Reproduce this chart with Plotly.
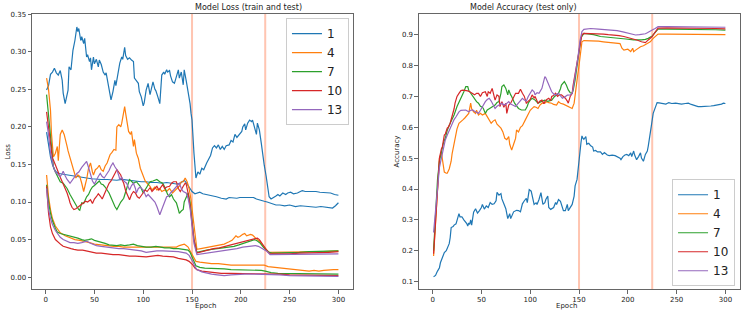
import plotly.graph_objects as go

labels = ["1", "4", "7", "10", "13"]
colors = ["#1f77b4", "#ff7f0e", "#2ca02c", "#d62728", "#9467bd"]

# ---------- Loss (test) ----------
lt1 = [(1,.249),(3,.255),(5,.27),(7,.273),(9,.278),(11,.272),(13,.269),(15,.275),(17,.262),(18,.245),(20,.231),(22,.245),(23,.249),(24,.28),(26,.276),(28,.302),(30,.315),(32,.333),(33,.327),(34,.331),(36,.315),(37,.32),(39,.311),(40,.318),(42,.293),(43,.296),(45,.287),(46,.292),(47,.276),(49,.293),(50,.284),(52,.29),(54,.28),(55,.289),(57,.283),(59,.273),(61,.269),(62,.272),(64,.258),(66,.24),(67,.236),(69,.247),(71,.262),(72,.255),(74,.269),(76,.285),(78,.293),(79,.29),(81,.306),(82,.295),(84,.29),(86,.292),(88,.289),(90,.287),(91,.265),(93,.262),(95,.258),(96,.247),(98,.24),(100,.228),(101,.232),(103,.249),(105,.258),(107,.243),(108,.25),(110,.26),(112,.25),(113,.248),(115,.24),(117,.231),(119,.269),(121,.273),(122,.27),(124,.276),(125,.273),(127,.275),(128,.268),(130,.26),(132,.258),(134,.268),(136,.276),(137,.265),(139,.273),(141,.256),(142,.276),(144,.262),(146,.249),(148,.231),(149,.218),(150,.209),(152,.165),(154,.132),(156,.14),(158,.137),(160,.145),(162,.143),(165,.152),(167,.158),(169,.162),(171,.172),(173,.175),(175,.172),(177,.176),(179,.17),(181,.174),(183,.17),(185,.175),(188,.176),(190,.182),(192,.18),(194,.19),(196,.186),(199,.19),(201,.194),(202,.2),(204,.204),(205,.196),(207,.205),(209,.209),(211,.207),(212,.209),(214,.2),(216,.19),(217,.205),(219,.196),(221,.178),(222,.165),(224,.149),(226,.134),(228,.115),(229,.107),(231,.104),(234,.106),(236,.108),(238,.11),(240,.108),(243,.112),(246,.11),(248,.112),(251,.113),(254,.111),(258,.112),(261,.114),(263,.115),(266,.114),(270,.114),(273,.115),(277,.114),(281,.113),(284,.113),(288,.112),(292,.112),(296,.11),(300,.109)]
lt4 = [(1,.265),(3,.25),(5,.222),(6,.191),(8,.16),(10,.165),(12,.174),(13,.155),(15,.19),(17,.196),(19,.19),(20,.183),(22,.174),(23,.168),(25,.158),(27,.15),(29,.138),(31,.132),(33,.136),(35,.134),(37,.125),(39,.114),(41,.125),(42,.13),(44,.145),(46,.152),(48,.14),(49,.136),(51,.143),(53,.145),(55,.149),(57,.143),(59,.141),(61,.148),(63,.152),(65,.158),(66,.163),(68,.166),(70,.17),(72,.169),(73,.2),(75,.203),(77,.2),(78,.205),(79,.213),(81,.227),(82,.218),(84,.2),(85,.194),(87,.19),(88,.194),(90,.174),(91,.183),(93,.165),(95,.158),(97,.145),(99,.138),(100,.136),(102,.128),(104,.125),(107,.121),(109,.116),(112,.12),(114,.116),(117,.118),(119,.114),(122,.116),(124,.114),(127,.118),(130,.112),(132,.115),(135,.118),(137,.121),(139,.127),(141,.127),(143,.132),(145,.127),(147,.118),(149,.103),(151,.08),(153,.059),(155,.037),(159,.038),(163,.039),(168,.04),(173,.042),(178,.043),(183,.044),(188,.047),(191,.049),(193,.052),(195,.055),(197,.053),(199,.054),(202,.057),(204,.058),(206,.055),(208,.056),(210,.057),(212,.056),(214,.053),(216,.051),(219,.048),(222,.043),(226,.037),(229,.033),(235,.033),(245,.033),(255,.034),(265,.034),(275,.034),(285,.034),(300,.035)]
lt7 = [(1,.243),(3,.215),(5,.183),(7,.155),(8,.147),(10,.14),(12,.134),(15,.127),(18,.125),(20,.122),(22,.118),(25,.11),(27,.105),(29,.1),(32,.094),(34,.09),(35,.089),(37,.099),(39,.098),(42,.107),(44,.11),(46,.116),(48,.12),(50,.122),(52,.125),(55,.128),(57,.124),(59,.123),(61,.12),(63,.116),(65,.112),(67,.106),(69,.099),(71,.094),(73,.09),(75,.095),(77,.1),(80,.105),(82,.115),(84,.122),(86,.13),(88,.127),(90,.125),(93,.127),(95,.124),(97,.121),(100,.112),(102,.116),(104,.12),(107,.127),(110,.128),(114,.13),(117,.127),(120,.125),(122,.12),(125,.11),(127,.107),(129,.11),(131,.104),(134,.099),(136,.09),(137,.085),(139,.088),(141,.09),(142,.1),(144,.107),(146,.112),(148,.1),(150,.072),(152,.05),(155,.033),(160,.035),(165,.036),(170,.037),(176,.038),(182,.039),(188,.04),(193,.041),(198,.043),(203,.045),(208,.047),(211,.049),(214,.05),(217,.048),(220,.045),(223,.04),(226,.036),(229,.033),(232,.032),(240,.032),(250,.033),(260,.033),(270,.034),(280,.034),(290,.035),(300,.035)]
lt10 = [(1,.22),(3,.2),(5,.174),(7,.158),(8,.156),(10,.148),(12,.143),(14,.136),(16,.13),(18,.125),(20,.118),(22,.112),(24,.104),(25,.099),(27,.093),(29,.09),(31,.091),(33,.093),(35,.096),(37,.097),(39,.099),(41,.101),(43,.1),(46,.103),(48,.098),(50,.104),(52,.107),(54,.111),(56,.108),(58,.104),(60,.11),(62,.116),(63,.119),(65,.125),(67,.128),(69,.134),(71,.138),(73,.143),(75,.14),(77,.136),(79,.128),(80,.125),(82,.115),(84,.108),(86,.103),(88,.11),(90,.114),(92,.112),(94,.107),(96,.105),(98,.109),(100,.112),(102,.116),(104,.114),(107,.119),(109,.114),(111,.117),(114,.121),(116,.116),(118,.119),(120,.123),(122,.118),(124,.12),(127,.121),(129,.125),(131,.127),(134,.127),(136,.118),(138,.114),(141,.121),(143,.125),(144,.124),(146,.112),(148,.095),(150,.072),(152,.05),(155,.032),(160,.034),(166,.036),(172,.038),(178,.039),(184,.041),(190,.043),(196,.045),(202,.047),(207,.049),(211,.051),(214,.052),(217,.052),(219,.05),(221,.046),(224,.041),(226,.037),(228,.033),(230,.031),(240,.031),(250,.031),(260,.032),(270,.032),(280,.033),(290,.033),(300,.034)]
lt13 = [(1,.207),(3,.19),(5,.165),(7,.152),(8,.147),(10,.14),(12,.137),(15,.134),(17,.138),(18,.141),(20,.135),(22,.13),(25,.125),(27,.128),(29,.132),(32,.138),(34,.14),(37,.146),(39,.149),(41,.153),(42,.154),(44,.146),(46,.138),(48,.128),(50,.124),(52,.13),(54,.134),(56,.138),(58,.134),(60,.132),(63,.138),(65,.142),(67,.148),(69,.152),(71,.147),(73,.143),(75,.135),(76,.13),(78,.133),(80,.128),(83,.125),(85,.12),(86,.116),(88,.122),(90,.125),(92,.118),(93,.112),(95,.118),(97,.12),(100,.116),(102,.11),(103,.107),(105,.11),(107,.107),(110,.103),(112,.1),(114,.094),(116,.087),(117,.083),(119,.09),(120,.094),(122,.1),(124,.107),(126,.108),(128,.112),(131,.116),(133,.119),(135,.122),(137,.125),(139,.118),(141,.114),(144,.112),(146,.105),(148,.092),(150,.063),(152,.045),(155,.03),(160,.031),(166,.032),(172,.033),(178,.034),(184,.035),(190,.036),(196,.038),(202,.04),(207,.041),(211,.042),(215,.042),(218,.041),(221,.039),(224,.037),(227,.034),(230,.03),(240,.03),(250,.03),(260,.031),(270,.031),(280,.031),(290,.031),(300,.031)]

# ---------- Loss (train) ----------
ltr1 = [(1,.193),(3,.175),(5,.16),(7,.15),(9,.143),(11,.14),(14,.138),(18,.137),(22,.136),(27,.135),(32,.134),(37,.133),(42,.132),(47,.131),(52,.13),(57,.13),(63,.13),(68,.129),(73,.129),(78,.13),(83,.129),(88,.128),(93,.128),(98,.127),(103,.127),(108,.126),(114,.126),(119,.125),(124,.126),(129,.125),(134,.124),(138,.125),(140,.127),(142,.129),(144,.126),(146,.122),(148,.118),(150,.114),(153,.111),(156,.112),(158,.113),(161,.111),(165,.11),(170,.108),(175,.107),(180,.105),(185,.104),(188,.106),(192,.105),(196,.105),(199,.106),(203,.106),(206,.105),(209,.106),(213,.106),(216,.104),(220,.103),(224,.101),(227,.1),(229,.099),(232,.097),(236,.096),(240,.096),(245,.095),(250,.096),(256,.094),(261,.095),(267,.094),(272,.094),(277,.093),(282,.094),(287,.093),(291,.093),(294,.092),(297,.095),(300,.099)]
ltr4 = [(1,.136),(2,.12),(3,.107),(5,.09),(7,.078),(10,.068),(13,.062),(15,.059),(20,.055),(25,.052),(30,.05),(35,.049),(39,.048),(45,.046),(50,.044),(55,.043),(60,.042),(65,.042),(70,.041),(75,.041),(80,.04),(86,.04),(92,.04),(98,.039),(103,.039),(110,.039),(115,.039),(120,.039),(125,.04),(130,.04),(134,.04),(137,.042),(140,.043),(142,.044),(144,.042),(146,.04),(148,.035),(150,.03),(152,.024),(154,.021),(158,.02),(163,.019),(170,.018),(177,.018),(183,.017),(190,.016),(196,.016),(202,.016),(208,.016),(214,.016),(218,.017),(221,.017),(224,.016),(228,.014),(235,.013),(245,.012),(255,.01),(262,.009),(266,.008),(270,.008),(275,.009),(280,.008),(285,.009),(290,.01),(295,.01),(300,.01)]
ltr7 = [(1,.123),(2,.11),(3,.1),(5,.085),(7,.075),(10,.065),(12,.06),(15,.058),(18,.057),(22,.056),(26,.055),(29,.054),(33,.052),(37,.05),(40,.049),(44,.05),(47,.051),(50,.049),(53,.048),(57,.047),(61,.045),(65,.043),(69,.042),(73,.042),(77,.043),(81,.042),(86,.043),(90,.044),(94,.042),(98,.041),(103,.04),(108,.04),(113,.041),(118,.04),(122,.039),(127,.039),(131,.038),(136,.038),(140,.037),(144,.037),(146,.036),(148,.033),(150,.028),(152,.021),(154,.015),(158,.013),(163,.012),(170,.012),(177,.011),(183,.011),(190,.01),(197,.01),(204,.009),(210,.009),(216,.009),(221,.009),(225,.008),(228,.007),(231,.006),(238,.005),(245,.005),(251,.004),(260,.004),(270,.004),(280,.004),(290,.004),(300,.004)]
ltr10 = [(1,.121),(2,.1),(3,.085),(5,.067),(7,.058),(10,.05),(13,.046),(16,.043),(18,.041),(22,.039),(26,.038),(29,.037),(33,.036),(38,.036),(42,.035),(47,.034),(52,.032),(57,.032),(62,.031),(69,.03),(75,.03),(80,.029),(86,.028),(92,.028),(98,.027),(103,.027),(109,.028),(115,.029),(120,.028),(126,.027),(131,.027),(136,.025),(140,.024),(144,.023),(147,.021),(149,.019),(151,.016),(153,.012),(155,.01),(160,.008),(165,.007),(172,.006),(180,.005),(190,.005),(200,.005),(210,.005),(220,.005),(226,.005),(231,.004),(240,.004),(250,.003),(260,.003),(270,.002),(280,.002),(290,.002),(300,.002)]
ltr13 = [(1,.118),(2,.1),(3,.09),(5,.078),(7,.07),(10,.062),(12,.058),(15,.053),(18,.05),(22,.048),(25,.046),(29,.046),(33,.045),(37,.046),(42,.048),(46,.045),(50,.043),(52,.042),(57,.041),(62,.04),(69,.039),(75,.038),(80,.038),(86,.037),(92,.036),(98,.035),(103,.033),(108,.034),(114,.035),(120,.035),(126,.035),(131,.035),(136,.034),(140,.033),(144,.032),(147,.029),(149,.025),(151,.02),(153,.014),(155,.01),(160,.007),(165,.005),(170,.004),(176,.003),(183,.002),(190,.003),(197,.004),(204,.004),(210,.004),(217,.004),(223,.004),(228,.003),(231,.003),(240,.003),(250,.002),(260,.002),(270,.001),(280,.001),(290,.001),(300,.001)]

# ---------- Accuracy (test) ----------
acc1 = [(1,.116),(3,.12),(5,.134),(7,.145),(8,.161),(10,.178),(12,.194),(14,.2),(15,.21),(17,.223),(18,.242),(19,.275),(21,.278),(22,.283),(24,.287),(25,.299),(27,.32),(28,.31),(30,.31),(32,.3),(34,.294),(35,.288),(36,.28),(37,.29),(38,.285),(39,.3),(40,.283),(42,.325),(44,.336),(46,.322),(48,.33),(50,.34),(51,.35),(53,.335),(55,.345),(57,.34),(59,.356),(61,.35),(63,.352),(65,.362),(66,.389),(68,.38),(70,.385),(71,.368),(73,.352),(75,.336),(77,.304),(78,.31),(79,.32),(80,.304),(81,.31),(82,.32),(83,.326),(86,.331),(88,.33),(90,.326),(92,.352),(94,.362),(96,.37),(97,.356),(99,.398),(101,.393),(102,.377),(104,.35),(106,.355),(107,.35),(109,.366),(111,.388),(113,.35),(115,.356),(116,.366),(118,.377),(119,.34),(121,.334),(124,.34),(126,.356),(127,.35),(129,.366),(131,.36),(133,.34),(134,.33),(136,.33),(138,.35),(139,.33),(141,.34),(143,.35),(145,.377),(146,.41),(148,.431),(150,.48),(151,.52),(152,.55),(153,.572),(154,.565),(155,.561),(157,.57),(158,.545),(160,.548),(162,.54),(164,.536),(165,.523),(167,.525),(169,.52),(172,.52),(174,.512),(176,.518),(179,.51),(181,.508),(184,.51),(187,.508),(189,.504),(192,.5),(193,.495),(195,.505),(197,.51),(199,.512),(201,.508),(203,.517),(204,.505),(206,.523),(207,.51),(209,.495),(211,.505),(213,.517),(214,.5),(216,.49),(218,.512),(220,.523),(221,.54),(223,.59),(224,.602),(226,.645),(228,.665),(230,.68),(232,.679),(234,.678),(237,.676),(239,.675),(242,.68),(245,.677),(249,.678),(252,.676),(255,.675),(259,.677),(262,.678),(265,.674),(267,.672),(270,.669),(272,.667),(275,.667),(278,.667),(282,.668),(285,.669),(288,.67),(292,.672),(296,.675),(298,.678),(300,.677)]
acc4 = [(1,.183),(3,.3),(5,.42),(7,.5),(9,.518),(10,.49),(11,.47),(12,.455),(14,.451),(15,.451),(17,.465),(19,.49),(20,.515),(22,.55),(24,.585),(25,.595),(27,.613),(29,.62),(31,.624),(33,.63),(34,.634),(36,.64),(37,.645),(39,.678),(40,.66),(42,.65),(44,.645),(45,.655),(47,.64),(49,.645),(51,.64),(54,.645),(56,.635),(58,.624),(60,.613),(62,.62),(64,.624),(66,.61),(68,.602),(70,.597),(72,.585),(74,.564),(76,.56),(78,.57),(79,.545),(81,.526),(83,.545),(85,.564),(86,.591),(88,.585),(90,.6),(92,.605),(95,.624),(98,.645),(100,.655),(102,.661),(104,.667),(106,.665),(108,.661),(110,.672),(112,.678),(115,.678),(117,.683),(119,.68),(122,.678),(124,.674),(127,.672),(129,.683),(131,.678),(134,.675),(136,.672),(139,.667),(141,.664),(143,.661),(145,.678),(146,.71),(148,.753),(150,.8),(152,.86),(153,.877),(155,.881),(160,.881),(165,.88),(170,.879),(175,.877),(180,.876),(186,.874),(190,.872),(192,.871),(194,.856),(196,.85),(198,.852),(200,.853),(202,.848),(203,.845),(205,.856),(206,.845),(208,.85),(210,.855),(213,.861),(216,.864),(218,.867),(221,.872),(223,.877),(226,.888),(229,.898),(231,.902),(240,.902),(250,.902),(260,.902),(270,.902),(280,.901),(290,.9),(300,.9)]
acc7 = [(1,.2),(3,.32),(5,.43),(7,.49),(9,.52),(11,.548),(13,.565),(15,.59),(18,.613),(20,.625),(22,.64),(25,.667),(27,.68),(29,.694),(31,.705),(32,.715),(34,.732),(36,.732),(37,.72),(39,.71),(41,.7),(43,.69),(45,.683),(47,.678),(49,.668),(51,.665),(52,.661),(54,.645),(56,.656),(58,.66),(61,.667),(64,.672),(66,.68),(68,.683),(70,.71),(71,.732),(73,.737),(75,.726),(77,.705),(78,.721),(80,.705),(81,.7),(84,.678),(86,.668),(88,.661),(91,.656),(95,.656),(97,.668),(98,.678),(100,.688),(102,.694),(105,.688),(108,.678),(111,.683),(115,.688),(118,.684),(122,.688),(125,.7),(129,.71),(131,.725),(132,.737),(135,.748),(137,.737),(139,.721),(141,.712),(143,.71),(144,.72),(146,.753),(148,.8),(150,.85),(152,.89),(155,.904),(160,.902),(165,.9),(172,.894),(177,.892),(182,.891),(187,.889),(192,.888),(198,.886),(206,.883),(210,.882),(214,.883),(218,.885),(221,.888),(225,.896),(228,.908),(231,.918),(240,.918),(250,.918),(260,.917),(270,.917),(280,.917),(290,.916),(300,.915)]
acc10 = [(1,.19),(3,.3),(5,.42),(7,.5),(9,.53),(10,.537),(12,.575),(13,.578),(15,.597),(16,.6),(18,.613),(20,.634),(22,.66),(23,.678),(25,.7),(27,.71),(29,.719),(31,.72),(34,.72),(36,.718),(38,.715),(40,.71),(43,.705),(45,.71),(47,.71),(49,.7),(51,.712),(54,.715),(55,.705),(56,.7),(57,.715),(59,.71),(61,.726),(62,.71),(64,.688),(66,.705),(68,.7),(69,.667),(71,.683),(73,.665),(75,.678),(76,.645),(78,.672),(80,.678),(83,.695),(85,.71),(88,.71),(90,.723),(92,.71),(94,.7),(96,.678),(98,.683),(100,.69),(102,.705),(104,.695),(105,.7),(108,.678),(110,.685),(112,.688),(114,.676),(115,.683),(117,.69),(119,.694),(121,.686),(122,.7),(124,.703),(126,.71),(128,.7),(130,.705),(132,.705),(134,.7),(136,.694),(138,.685),(139,.678),(141,.7),(143,.71),(144,.737),(146,.775),(149,.829),(151,.875),(153,.9),(155,.904),(160,.904),(165,.903),(170,.903),(175,.902),(180,.9),(186,.899),(191,.897),(196,.894),(201,.89),(206,.885),(210,.882),(214,.877),(218,.874),(221,.883),(225,.894),(228,.908),(231,.921),(240,.922),(250,.922),(260,.922),(270,.922),(280,.921),(290,.92),(300,.919)]
acc13 = [(1,.259),(3,.33),(5,.42),(7,.47),(9,.5),(10,.515),(12,.54),(13,.559),(15,.575),(17,.59),(20,.613),(22,.625),(24,.634),(26,.645),(27,.65),(29,.655),(31,.656),(34,.656),(36,.652),(37,.65),(39,.655),(41,.656),(43,.652),(45,.648),(47,.645),(49,.655),(51,.667),(53,.678),(54,.683),(56,.69),(58,.694),(60,.685),(62,.672),(64,.661),(66,.668),(68,.672),(71,.678),(73,.672),(75,.675),(78,.683),(80,.675),(82,.672),(85,.667),(87,.675),(89,.683),(92,.694),(94,.688),(96,.685),(98,.7),(100,.71),(102,.721),(104,.715),(105,.705),(107,.712),(109,.71),(112,.726),(114,.75),(115,.764),(116,.76),(118,.745),(119,.737),(121,.728),(122,.715),(124,.708),(126,.705),(129,.71),(131,.7),(133,.694),(136,.7),(138,.704),(141,.705),(143,.71),(144,.726),(146,.764),(149,.829),(151,.88),(153,.91),(155,.917),(162,.92),(170,.918),(175,.917),(182,.915),(189,.913),(195,.909),(199,.906),(204,.902),(208,.899),(212,.9),(215,.901),(218,.903),(220,.906),(223,.91),(225,.915),(228,.92),(231,.926),(240,.926),(250,.926),(260,.926),(270,.926),(280,.925),(290,.925),(300,.924)]

loss_test = [lt1, lt4, lt7, lt10, lt13]
loss_train = [ltr1, ltr4, ltr7, ltr10, ltr13]
acc_test = [acc1, acc4, acc7, acc10, acc13]
stage_epochs = [150, 225]

FONT = "DejaVu Sans"
fig = go.Figure()

def xs(s):
    return [p[0] for p in s]

def ys(s):
    return [p[1] for p in s]

for i in range(5):
    fig.add_trace(go.Scatter(x=xs(loss_train[i]), y=ys(loss_train[i]), mode="lines",
                             line=dict(color=colors[i], width=1.2), showlegend=False,
                             xaxis="x", yaxis="y", hoverinfo="skip"))
for i in range(5):
    fig.add_trace(go.Scatter(x=xs(loss_test[i]), y=ys(loss_test[i]), mode="lines",
                             line=dict(color=colors[i], width=1.2), name=labels[i],
                             legend="legend", xaxis="x", yaxis="y"))
for i in range(5):
    fig.add_trace(go.Scatter(x=xs(acc_test[i]), y=ys(acc_test[i]), mode="lines",
                             line=dict(color=colors[i], width=1.2), name=labels[i],
                             legend="legend2", xaxis="x2", yaxis="y2"))

shapes = []
for xr, yr in [("x", "y domain"), ("x2", "y2 domain")]:
    for e in stage_epochs:
        shapes.append(dict(type="line", xref=xr, yref=yr, x0=e, x1=e, y0=0, y1=1,
                           line=dict(color="rgba(255,140,100,0.5)", width=2), layer="below"))

axis_common = dict(showline=True, mirror=True, linecolor="#666", linewidth=1,
                   ticks="outside", ticklen=3.5, tickwidth=1, tickcolor="#666",
                   showgrid=False, zeroline=False,
                   tickfont=dict(family=FONT, size=7, color="#222"))

fig.update_layout(
    width=747, height=314,
    margin=dict(l=32, r=7, t=14, b=25),
    plot_bgcolor="white", paper_bgcolor="white",
    shapes=shapes,
    xaxis=dict(domain=[0, 0.4534], range=[-13.95, 314.95], tickvals=[0, 50, 100, 150, 200, 250, 300], **axis_common),
    yaxis=dict(range=[-0.0158, 0.3503], tickvals=[0, 0.05, 0.1, 0.15, 0.2, 0.25, 0.3, 0.35], tickformat=".2f", **axis_common),
    xaxis2=dict(domain=[0.5466, 1], range=[-13.95, 314.95], tickvals=[0, 50, 100, 150, 200, 250, 300], anchor="y2", **axis_common),
    yaxis2=dict(range=[0.076, 0.967], tickvals=[0.1, 0.2, 0.3, 0.4, 0.5, 0.6, 0.7, 0.8, 0.9], tickformat=".1f", anchor="x2", **axis_common),
    legend=dict(x=0.4477, y=0.985, xanchor="right", yanchor="top", bgcolor="white",
                bordercolor="#ccc", borderwidth=1, itemwidth=30,
                font=dict(family=FONT, size=12, color="#222"), tracegroupgap=0),
    legend2=dict(x=0.993, y=0.01, xanchor="right", yanchor="bottom", bgcolor="white",
                 bordercolor="#ccc", borderwidth=1, itemwidth=30,
                 font=dict(family=FONT, size=12, color="#222"), tracegroupgap=0),
    annotations=[
        dict(text="Model Loss (train and test)", x=0.2267, y=1.025, xref="paper", yref="paper",
             showarrow=False, font=dict(family=FONT, size=8, color="#222"), yanchor="middle"),
        dict(text="Model Accuracy (test only)", x=0.7733, y=1.025, xref="paper", yref="paper",
             showarrow=False, font=dict(family=FONT, size=8, color="#222"), yanchor="middle"),
        dict(text="Epoch", x=0.2267, y=-0.062, xref="paper", yref="paper",
             showarrow=False, font=dict(family=FONT, size=7, color="#222"), yanchor="middle"),
        dict(text="Epoch", x=0.7733, y=-0.062, xref="paper", yref="paper",
             showarrow=False, font=dict(family=FONT, size=7, color="#222"), yanchor="middle"),
        dict(text="Loss", x=-0.0353, y=0.5, xref="paper", yref="paper", textangle=-90,
             showarrow=False, font=dict(family=FONT, size=7, color="#222"), xanchor="center"),
        dict(text="Accuracy", x=0.5155, y=0.5, xref="paper", yref="paper", textangle=-90,
             showarrow=False, font=dict(family=FONT, size=7, color="#222"), xanchor="center"),
    ],
)

fig.write_html("out.html", config={"displayModeBar": False},
               post_script="document.body.style.margin='0';document.body.style.overflow='hidden';")
